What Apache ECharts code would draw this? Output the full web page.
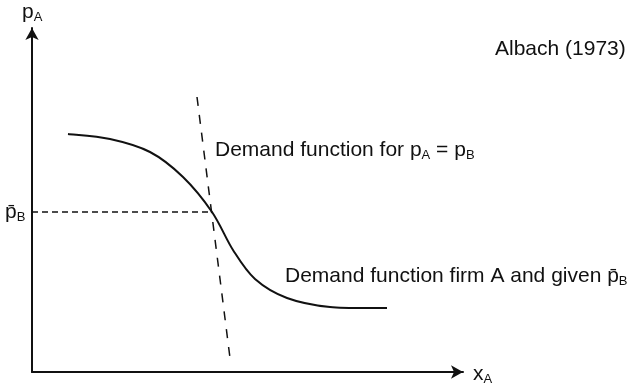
<!DOCTYPE html>
<html><head><meta charset="utf-8">
<script src="https://cdn.jsdelivr.net/npm/echarts@6/dist/echarts.min.js"></script>
<style>html,body{margin:0;padding:0;background:#fff}#c{width:632px;height:388px}</style>
</head><body><div id="c"></div>
<script>
// Firm A demand curve (quantity x, price p)
const curveX = [36, 78, 118, 151, 180, 201, 223, 255, 298, 355];
const curveY = [238, 233, 220, 195, 160, 122, 93, 74, 65, 64];
// Demand function for pA = pB (steep dashed line)
const steepX = [165, 198];
const steepY = [275, 14];
// price level p̄B (horizontal dashed)
const pbLevel = 160;
const pbX = [0, 180];
const axisMax = { x: 431, y: 344 };

const chart = echarts.init(document.getElementById('c'), null, { renderer: 'canvas' });
const F = 'Liberation Sans, Arial, sans-serif';
const FS = 21;
const rich = {
  n: { fontSize: FS, fontFamily: F, color: '#111', lineHeight: 22 },
  s: { fontSize: 13, fontFamily: F, color: '#111', lineHeight: 8, verticalAlign: 'bottom' }
};
function txt(left, top, text) {
  return { type: 'text', left: left, top: top, style: { text: text, rich: rich, font: FS + 'px ' + F, fill: '#111' } };
}
const curveData = curveX.map((x, i) => [x, curveY[i]]);

function renderCurve(params, api) {
  if (params.dataIndex !== 0) return null;
  const P = curveData.map(d => api.coord(d));
  const n = P.length;
  let d = 'M' + P[0][0] + ' ' + P[0][1];
  for (let i = 0; i < n - 1; i++) {
    const p0 = P[Math.max(i - 1, 0)], p1 = P[i], p2 = P[i + 1], p3 = P[Math.min(i + 2, n - 1)];
    const c1x = p1[0] + (p2[0] - p0[0]) / 6, c1y = p1[1] + (p2[1] - p0[1]) / 6;
    const c2x = p2[0] - (p3[0] - p1[0]) / 6, c2y = p2[1] - (p3[1] - p1[1]) / 6;
    d += ' C' + c1x + ' ' + c1y + ' ' + c2x + ' ' + c2y + ' ' + p2[0] + ' ' + p2[1];
  }
  return { type: 'path', shape: { pathData: d }, style: { fill: 'none', stroke: '#111', lineWidth: 2 } };
}

chart.setOption({
  animation: false,
  backgroundColor: '#fff',
  grid: { left: 32, top: 28, right: 169, bottom: 16 },
  xAxis: {
    type: 'value', min: 0, max: axisMax.x,
    axisLine: { lineStyle: { color: '#111', width: 2 }, symbol: ['none', 'arrow'], symbolSize: [10, 12] },
    axisTick: { show: false }, axisLabel: { show: false }, splitLine: { show: false }
  },
  yAxis: {
    type: 'value', min: 0, max: axisMax.y,
    axisLine: { show: true, lineStyle: { color: '#111', width: 2 }, symbol: ['none', 'arrow'], symbolSize: [10, 12] },
    axisTick: { show: false }, axisLabel: { show: false }, splitLine: { show: false }
  },
  series: [
    { type: 'custom', data: curveData, renderItem: renderCurve, encode: { x: 0, y: 1 }, silent: true },
    { type: 'line', data: steepX.map((x, i) => [x, steepY[i]]), showSymbol: false,
      lineStyle: { color: '#111', width: 1.5, type: [9, 9] } },
    { type: 'line', data: pbX.map(x => [x, pbLevel]), showSymbol: false,
      lineStyle: { color: '#111', width: 1.5, type: [6, 4] } }
  ],
  graphic: [
    txt(22, 2, '{n|p}{s|A}'),
    txt(5, 202, '{n|p\u0304}{s|B}'),
    txt(473, 364, '{n|x}{s|A}'),
    txt(495, 39, '{n|Albach (1973)}'),
    txt(215, 140, '{n|Demand function for p}{s|A}{n| = p}{s|B}'),
    txt(285, 266, '{n|Demand function firm A and given p\u0304}{s|B}')
  ]
});
</script></body></html>
